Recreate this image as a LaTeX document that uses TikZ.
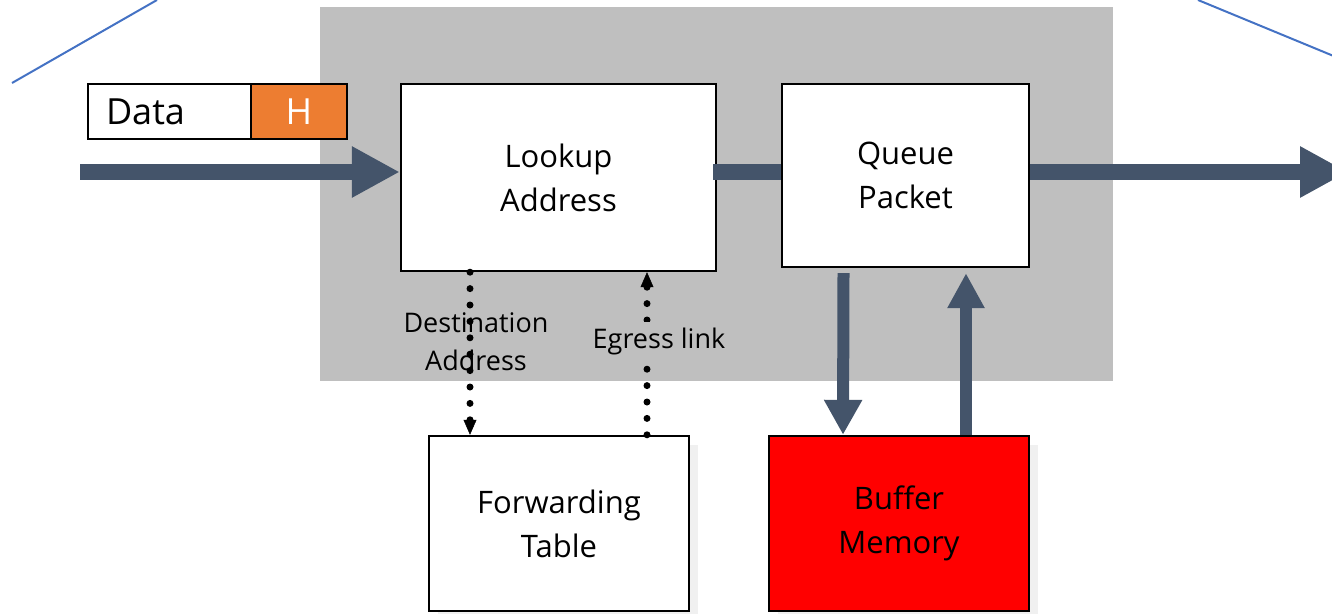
\documentclass[tikz,border=0pt]{standalone}
\usepackage{fontspec}
\setmainfont{Open Sans}
\usepackage{tikz}
\usetikzlibrary{positioning,arrows.meta,shadows}
\definecolor{routergray}{HTML}{BFBFBF}
\definecolor{busblue}{HTML}{44546A}
\definecolor{hdrorange}{HTML}{ED7D31}
\definecolor{wireblue}{HTML}{4472C4}
\definecolor{bufred}{HTML}{FF0000}

\begin{document}
\begin{tikzpicture}[
  x=1pt, y=-1pt,
  blk/.style={draw, line width=2.4pt, minimum width=315pt, minimum height=187pt,
              align=center, fill=white, inner sep=0pt,
              font=\fontsize{31}{44}\selectfont},
  pkt/.style={draw, line width=2.4pt, minimum height=55pt, inner ysep=0pt, outer sep=0pt,
              font=\fontsize{36}{40}\selectfont},
  lbl/.style={align=center, font=\fontsize{27}{38}\selectfont},
  bus/.style={draw=busblue, line width=16pt},
  vbus/.style={draw=busblue, line width=12pt},
  dotarrow/.style={line width=7pt, line cap=round, dash pattern=on 0pt off 16.4pt,
                   -{Triangle[length=15pt, width=13pt, line width=0.5pt]}},
  wire/.style={draw=wireblue, line width=2pt},
  soft/.style={drop shadow={shadow xshift=9pt, shadow yshift=-9pt, opacity=0.12}}
]
\useasboundingbox (0,0) rectangle (1332,613);

\node[fill=routergray, minimum width=793pt, minimum height=374pt, inner sep=0pt] (router) at (716.5,194) {};

\draw[wire] (12,83) -- (157,0);
\draw[wire] (1198,0) -- (1336,57);

\node[pkt, text width=127pt, inner xsep=18pt, align=left] (data) at (169.5,111.5) {Data};
\node[pkt, fill=hdrorange, text=white, minimum width=96pt, inner xsep=0pt, right=0pt of data] (hdr) {H};

\node[blk] (lookup) at (558.5,177.5) {Lookup\\Address};
\node[blk, minimum width=247pt, minimum height=183pt] (queue) at (905.5,175.5) {Queue\\Packet};
\node[blk, soft, minimum width=260pt, minimum height=175pt] (fwd) at (559,523.5) {Forwarding\\Table};
\node[blk, soft, fill=bufred, minimum width=260pt, minimum height=175pt] (buffer) at (899,523.5) {Buffer\\Memory};

\coordinate (in) at (80,172);
\coordinate (out) at (1348,172);

\draw[bus, -{Triangle[length=48pt, width=48pt]}] (in) -- ([yshift=5.5pt]lookup.west);
\draw[bus] ([xshift=-4pt, yshift=5.5pt]lookup.east) -- ([yshift=3.5pt]queue.west);
\draw[bus, -{Triangle[length=48pt, width=48pt]}] ([yshift=3.5pt]queue.east) -- (out);

\draw[vbus, -{Triangle[length=35pt, width=36pt]}] ([xshift=-62pt, yshift=-5pt]queue.south) -- ([xshift=-56pt]buffer.north);
\draw[vbus, -{Triangle[length=35pt, width=35pt]}] ([xshift=67pt]buffer.north) -- ([xshift=60.5pt, yshift=-5pt]queue.south);

\draw[dotarrow] ([xshift=-88.5pt]lookup.south) -- ([xshift=-89pt]fwd.north);
\draw[dotarrow] ([xshift=88pt]fwd.north) -- ([xshift=88.5pt]lookup.south);

\node[lbl] (dst) at (476,342) {Destination\\Address};
\node[lbl, fill=routergray, inner xsep=2pt, inner ysep=6pt] (egress) at (659,341) {Egress link};
\end{tikzpicture}
\end{document}
